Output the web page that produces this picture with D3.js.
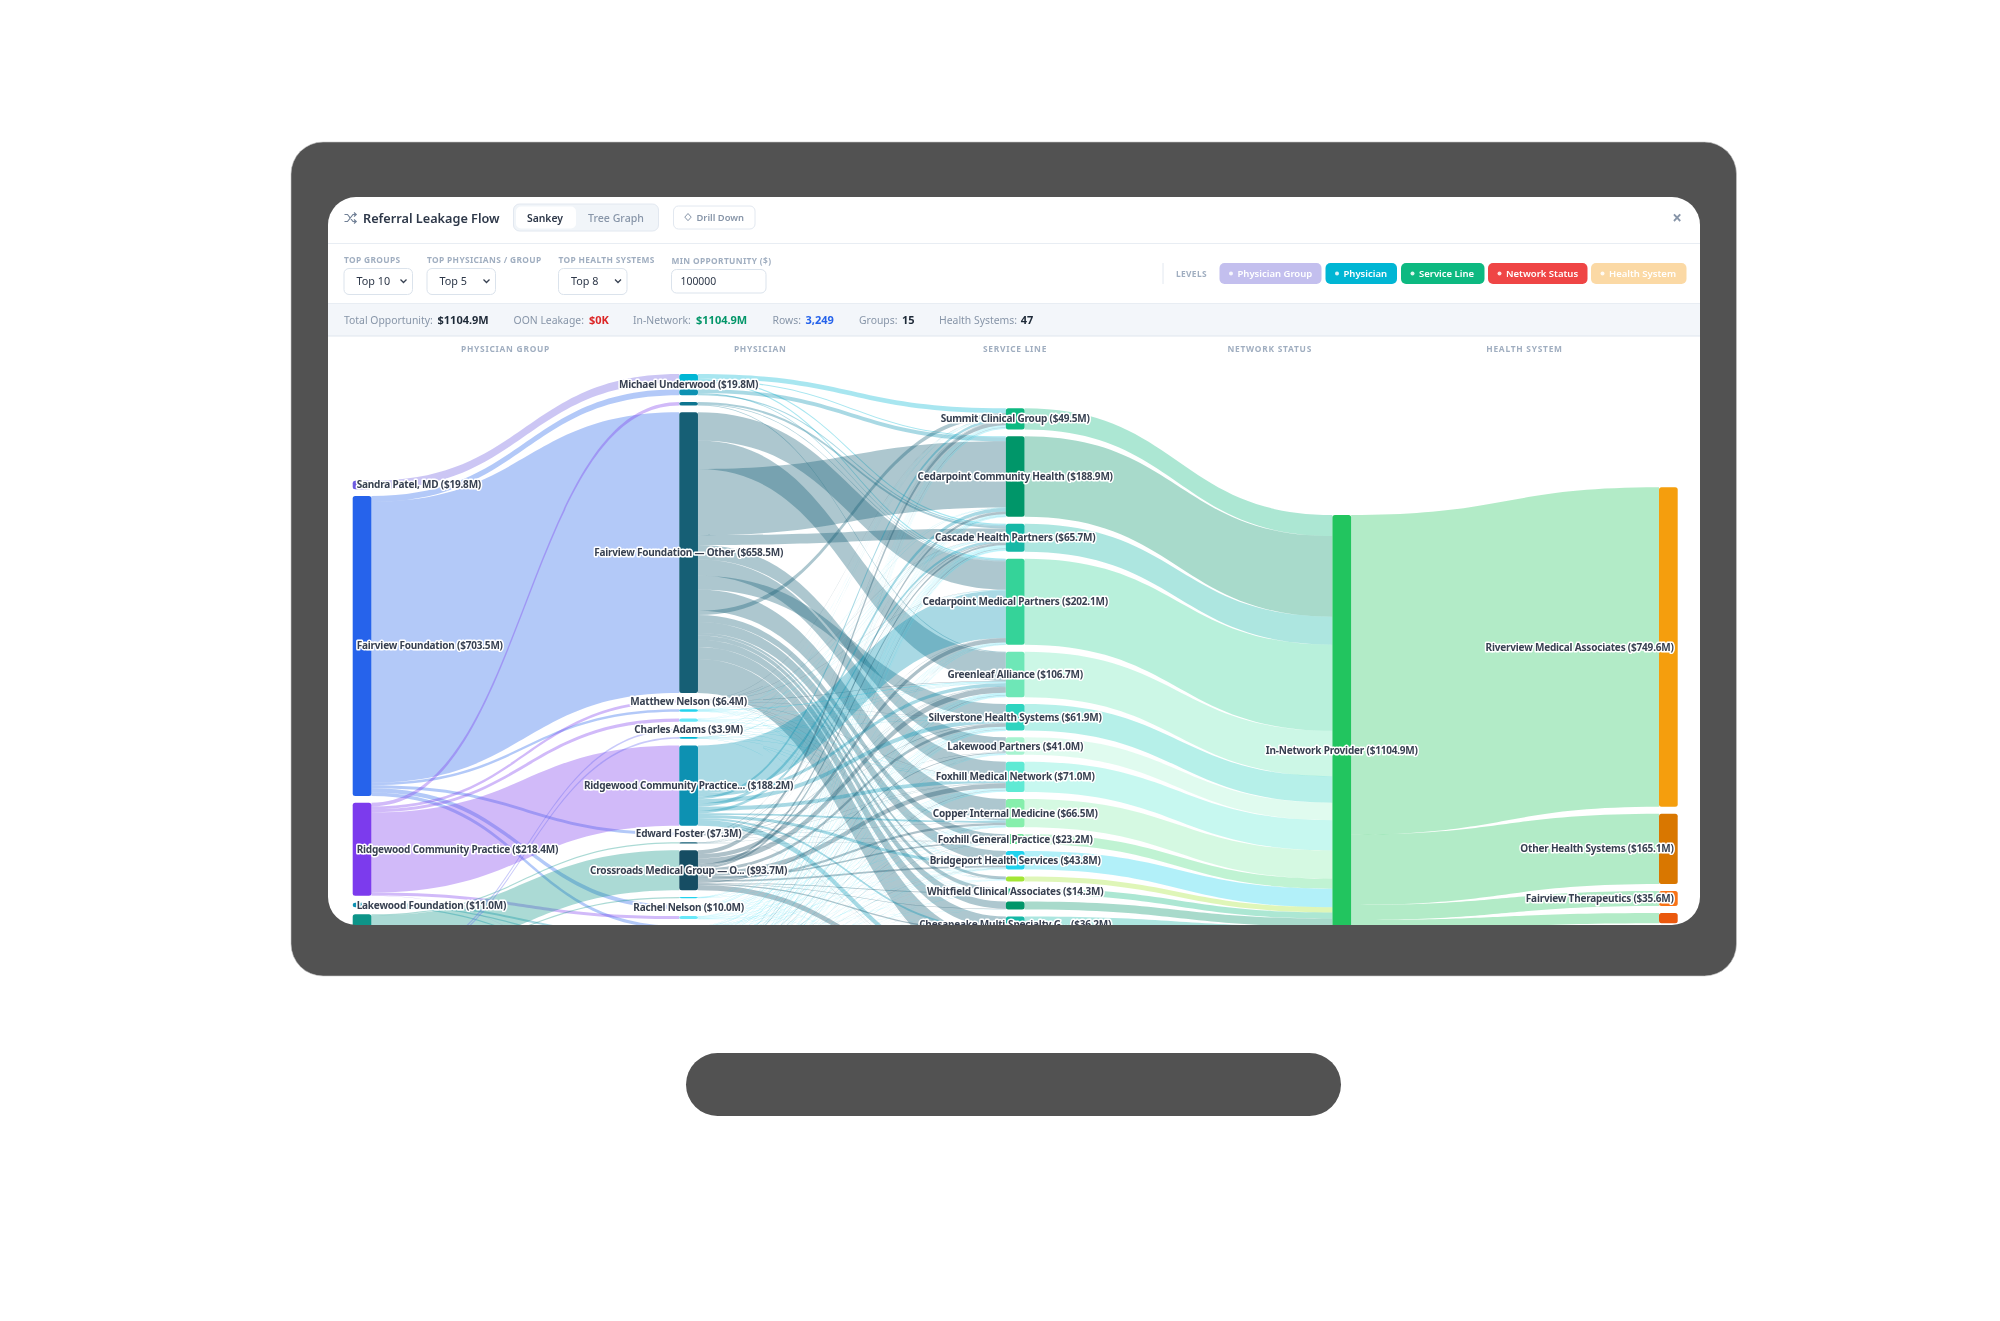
<!DOCTYPE html>
<html>
<head>
<meta charset="utf-8">
<title>Referral Leakage Flow</title>
<script src="https://cdn.jsdelivr.net/npm/d3@7"></script>
<style>
    html, body { margin: 0; padding: 0; background: #fff; }
    svg { display: block; font-family: "Noto Sans", sans-serif; }
    .node-label { font-size: 10px; font-weight: 700; letter-spacing: -0.2px; fill: #374151; stroke: #fff; stroke-width: 3px; stroke-linejoin: round; paint-order: stroke; }
    .col-head { font-size: 8.4px; font-weight: 700; fill: #a0aec0; letter-spacing: 0.75px; text-anchor: middle; }
    .filter-label { font-size: 8.4px; font-weight: 700; fill: #a0aec0; letter-spacing: 0.35px; }
</style>
</head>
<body>
<div id="chart"></div>
<script>
// values, in $M. Empty names are bars the picture shows without a label
var levels = ["PHYSICIAN GROUP", "PHYSICIAN", "SERVICE LINE", "NETWORK STATUS", "HEALTH SYSTEM"];
var totalOpportunity = 1104.9;

var groupNames = ["Sandra Patel, MD", "Fairview Foundation", "Ridgewood Community Practice", "Lakewood Foundation", "", ""];
var groupValues = [19.8, 703.5, 218.4, 11.0, 105.0, 47.2];
var groupColors = ["#6d5ce0", "#2563eb", "#7c3aed", "#0891b2", "#0d9488", "#6366f1"];

var physicianNames = ["Michael Underwood", "", "", "Fairview Foundation — Other", "Matthew Nelson", "", "", "Charles Adams", "", "Ridgewood Community Practice...", "Edward Foster", "", "Crossroads Medical Group — O...", "", "Rachel Nelson", "", "", "", "", "", "", "", ""];
var physicianValues = [19.8, 14.0, 8.7, 658.5, 6.4, 6.0, 7.5, 3.9, 4.0, 188.2, 7.3, 3.0, 93.7, 3.0, 10.0, 7.1, 7.7, 11.0, 5.3, 10.0, 9.0, 8.0, 12.8];
var physicianColors = ["#06b6d4", "#0891b2", "#0e7490", "#155e75", "#164e63", "#22d3ee", "#67e8f9", "#06b6d4", "#06b6d4", "#0891b2", "#164e63", "#155e75", "#164e63", "#22d3ee", "#67e8f9", "#67e8f9", "#22d3ee", "#67e8f9", "#22d3ee", "#0e7490", "#67e8f9", "#22d3ee", "#67e8f9"];

var serviceNames = ["Summit Clinical Group", "Cedarpoint Community Health", "Cascade Health Partners", "Cedarpoint Medical Partners", "Greenleaf Alliance", "Silverstone Health Systems", "Lakewood Partners", "Foxhill Medical Network", "Copper Internal Medicine", "Foxhill General Practice", "Bridgeport Health Services", "", "Whitfield Clinical Associates", "", "Chesapeake Multi-Specialty G...", ""];
var serviceValues = [49.5, 188.9, 65.7, 202.1, 106.7, 61.9, 41.0, 71.0, 66.5, 23.2, 43.8, 12.0, 14.3, 19.0, 36.2, 103.1];
var serviceColors = ["#10b981", "#059669", "#14b8a6", "#34d399", "#6ee7b7", "#2dd4bf", "#a7f3d0", "#5eead4", "#86efac", "#4ade80", "#22d3ee", "#a3e635", "#10b981", "#059669", "#14b8a6", "#2dd4bf"];

var networkNames = ["In-Network Provider"];
var networkValues = [1104.9];
var networkColors = ["#22c55e"];

var systemNames = ["Riverview Medical Associates", "Other Health Systems", "Fairview Therapeutics", "", ""];
var systemValues = [749.6, 165.1, 35.6, 24.0, 130.6];
var systemColors = ["#f59e0b", "#d97706", "#f97316", "#ea580c", "#fb923c"];

// group -> physician: [group, physician, $M]
var groupFlows = [
    [0, 0, 19.8],
    [1, 1, 14.0], [1, 3, 658.5], [1, 5, 6.0], [1, 10, 7.3], [1, 14, 10.0], [1, 16, 7.7],
    [2, 2, 8.7], [2, 4, 6.4], [2, 6, 7.5], [2, 9, 188.2], [2, 15, 7.1], [2, 21, 0.5],
    [3, 17, 5.0], [3, 18, 3.0], [3, 20, 3.0],
    [4, 11, 3.0], [4, 12, 93.7], [4, 13, 3.0], [4, 18, 2.3], [4, 22, 3.0],
    [5, 7, 3.9], [5, 8, 4.0], [5, 17, 6.0], [5, 19, 10.0], [5, 20, 6.0], [5, 21, 7.5], [5, 22, 9.8]
];

// big physicians: [service, $M] in the order they leave the bar
var physicianFlowsListed = {
    0: [[0, 11], [2, 3], [1, 2.8], [3, 3]],
    1: [[1, 9], [3, 2], [2, 3]],
    2: [[2, 5], [3, 1.7], [4, 2]],
    3: [[3, 66], [4, 67], [1, 155], [2, 23], [6, 34], [7, 38], [5, 32.5], [8, 50], [0, 10], [9, 16], [10, 26], [11, 6], [12, 10], [13, 17], [14, 28], [15, 80]],
    9: [[3, 112], [4, 8], [0, 6], [5, 10], [1, 8], [7, 9], [2, 6], [8, 4], [10, 7], [14, 5], [15, 13.2]],
    12: [[0, 9], [3, 10], [4, 13], [1, 6], [2, 5], [5, 7], [7, 11], [9, 4], [8, 5], [10, 4], [6, 2], [12, 1.5], [13, 1], [14, 3], [15, 12.2]]
};

// small physicians: one column per service line
var physicianFlowsThin = {
    4:  [.6, .4, .8, .5, .9, .6, .2, .7, .4, .2, .4, .2, .1, .1, 0, .3],
    5:  [.3, .2, .5, .3, 1.8, .5, .2, .6, .5, .2, .4, .2, .1, 0, 0, .2],
    6:  [.7, .5, 1.1, .4, 1.3, .8, .3, .8, .5, .2, .5, .2, .1, 0, 0, .1],
    7:  [.4, .2, .6, .2, .5, .4, .1, .5, .3, .1, .2, .1, .1, 0, 0, .2],
    8:  [.5, .2, .6, .2, .5, .4, .2, .4, .3, .1, .2, .1, .1, 0, 0, .1],
    10: [.9, .6, 1.4, .5, 1, .8, .3, .7, .4, .1, .2, .1, .1, 0, 0, .1],
    11: [.4, .2, .6, .2, .3, .3, .1, .3, .2, .1, .1, .1, 0, 0, 0, .1],
    13: [.3, .3, .5, .2, .3, .4, .1, .3, .2, .1, .1, .1, 0, 0, 0, .1],
    14: [1.1, .9, 1.7, .7, 1.3, 1.1, .4, 1, .6, .2, .4, .2, .1, .1, 0, .1],
    15: [.8, .6, 1.1, .6, .9, .9, .4, .7, .5, .2, .3, .2, .1, .1, 0, .2],
    16: [.9, .6, 1.3, .5, 1, .9, .4, .8, .5, .2, .4, .2, .1, .1, 0, .3],
    17: [1.2, 1, 1.9, .8, 1.5, 1.3, .5, 1.2, .8, .3, .6, .3, .2, .1, 0, .3],
    18: [.6, .5, .9, .4, .7, .7, .3, .6, .4, .1, .3, .1, .1, 0, 0, .1],
    19: [1.1, .8, 1.8, .7, 1.4, 1.2, .4, 1.1, .7, .3, .5, .3, .2, .1, 0, .3],
    20: [1, .8, 1.5, .6, 1.2, 1.1, .4, 1, .7, .2, .6, .3, .2, .1, 0, .2],
    21: [.9, .7, 1.3, .5, 1.1, 1, .4, .9, .6, .2, .5, .2, .2, .1, 0, .2],
    22: [.9, .7, 1.2, .6, 1.1, 1, .4, 1, .7, .3, .6, .3, .2, .1, 0, .3]
};

// interface text
var filters = [["TOP GROUPS", "Top 10"], ["TOP PHYSICIANS / GROUP", "Top 5"], ["TOP HEALTH SYSTEMS", "Top 8"]];
var minOpportunity = ["MIN OPPORTUNITY ($)", "100000"];
var stats = [
    ["Total Opportunity:", "$1104.9M", "#1f2937"],
    ["OON Leakage:", "$0K", "#dc2626"],
    ["In-Network:", "$1104.9M", "#059669"],
    ["Rows:", "3,249", "#2563eb"],
    ["Groups:", "15", "#1f2937"],
    ["Health Systems:", "47", "#1f2937"]
];
var legendNames = ["Physician Group", "Physician", "Service Line", "Network Status", "Health System"];
var legendColors = ["#c3bfee", "#06b6d4", "#10b981", "#ef4444", "#fbd9a5"];

// page geometry
var width = 2000, height = 1321;
var screen = {x: 328, y: 197, w: 1372, h: 728};
var nodeWidth = 18.7;
var columnPads = [6.85, 6.75, 6.9, 6.85, 6.85];
var columnTops = [480.7, 374, 408.3, 515, 487.3];
var labelShift = {"Michael Underwood": 6};

var svg = d3.select("#chart").append("svg").attr("width", width).attr("height", height);

svg.append("filter").attr("id", "soften").attr("x", 0).attr("y", 0).attr("width", 1).attr("height", 1)
    .append("feGaussianBlur").attr("stdDeviation", 0.4);

// monitor
svg.append("rect").attr("x", 291).attr("y", 142).attr("width", 1445.5).attr("height", 834).attr("rx", 32).attr("fill", "#525252").attr("stroke", "#c8c8c8").attr("stroke-width", 0.6);
svg.append("rect").attr("x", 686).attr("y", 1053).attr("width", 655).attr("height", 63).attr("rx", 31.5).attr("fill", "#525252");

svg.append("clipPath").attr("id", "screen-clip").append("rect")
    .attr("x", screen.x).attr("y", screen.y).attr("width", screen.w).attr("height", screen.h).attr("rx", 28);

var page = svg.append("g").attr("clip-path", "url(#screen-clip)").append("g").attr("filter", "url(#soften)");
page.append("rect").attr("x", screen.x).attr("y", screen.y).attr("width", screen.w).attr("height", screen.h).attr("fill", "#fff");

drawHeader(page);
drawSankey(page);

function drawHeader(g) {
    // title row
    g.append("path")
        .attr("d", "M344.5 214.5h3l5.5 7h3M344.5 221.5h3l5.5-7h3M354 212.5l2.2 2-2.2 2M354 219.5l2.2 2-2.2 2")
        .attr("fill", "none").attr("stroke", "#718096").attr("stroke-width", 1.2);
    g.append("text").attr("x", 363).attr("y", 222.5).attr("font-size", 12.7).attr("font-weight", 600).attr("fill", "#2d3748").text("Referral Leakage Flow");

    g.append("rect").attr("x", 513.5).attr("y", 204).attr("width", 145).attr("height", 27).attr("rx", 6).attr("fill", "#f1f5f9").attr("stroke", "#e2e8f0");
    g.append("rect").attr("x", 516).attr("y", 206.5).attr("width", 60).attr("height", 22).attr("rx", 5).attr("fill", "#fff");
    g.append("text").attr("x", 545).attr("y", 221.5).attr("text-anchor", "middle").attr("font-size", 10.4).attr("font-weight", 600).attr("fill", "#2d3748").text("Sankey");
    g.append("text").attr("x", 616).attr("y", 221.5).attr("text-anchor", "middle").attr("font-size", 10.6).attr("font-weight", 500).attr("fill", "#8795a8").text("Tree Graph");

    g.append("rect").attr("x", 673.5).attr("y", 206).attr("width", 81.5).attr("height", 23).attr("rx", 5).attr("fill", "#fff").attr("stroke", "#e2e8f0");
    g.append("path").attr("d", "M688 213.5l3.2 3.6-3.2 3.6-3.2-3.6z").attr("fill", "none").attr("stroke", "#8795a8").attr("stroke-width", 1);
    g.append("text").attr("x", 696.5).attr("y", 221.3).attr("font-size", 9.4).attr("font-weight", 600).attr("fill", "#8795a8").text("Drill Down");

    g.append("text").attr("x", 1677).attr("y", 223.5).attr("text-anchor", "middle").attr("font-size", 17).attr("font-weight", 700).attr("fill", "#8795a8").text("×");

    g.append("line").attr("x1", screen.x).attr("x2", screen.x + screen.w).attr("y1", 243.5).attr("y2", 243.5).attr("stroke", "#e8edf3");

    // filter row
    var filterX = d3.scaleOrdinal().domain(d3.range(4)).range([344, 427, 558.5, 671.5]);
    filters.forEach(function(f, i) {
        var x = filterX(i);
        g.append("text").attr("class", "filter-label").attr("x", x).attr("y", 263).text(f[0]);
        g.append("rect").attr("x", x).attr("y", 268.5).attr("width", 68.5).attr("height", 26).attr("rx", 5).attr("fill", "#fff").attr("stroke", "#dbe3ec");
        g.append("text").attr("x", x + 12.5).attr("y", 285.3).attr("font-size", 10.8).attr("fill", "#2d3748").text(f[1]);
        g.append("path").attr("d", "M" + (x + 56.5) + " 279.5l3 3 3-3").attr("fill", "none").attr("stroke", "#374151").attr("stroke-width", 1.3);
    });
    g.append("text").attr("class", "filter-label").attr("x", filterX(3)).attr("y", 264).text(minOpportunity[0]);
    g.append("rect").attr("x", filterX(3)).attr("y", 269.5).attr("width", 94.5).attr("height", 23.5).attr("rx", 5).attr("fill", "#fff").attr("stroke", "#dbe3ec");
    g.append("text").attr("x", filterX(3) + 9).attr("y", 285).attr("font-size", 10.4).attr("fill", "#2d3748").text(minOpportunity[1]);

    // levels legend
    g.append("line").attr("x1", 1163).attr("x2", 1163).attr("y1", 263).attr("y2", 284).attr("stroke", "#e2e8f0");
    g.append("text").attr("class", "filter-label").attr("x", 1176).attr("y", 277).text("LEVELS");
    var pillX = [1219.5, 1325.5, 1401, 1488, 1591];
    var pillW = [102, 71.5, 83.5, 99.5, 95.5];
    legendNames.forEach(function(name, i) {
        g.append("rect").attr("x", pillX[i]).attr("y", 263).attr("width", pillW[i]).attr("height", 21).attr("rx", 5).attr("fill", legendColors[i]);
        g.append("circle").attr("cx", pillX[i] + 11.5).attr("cy", 273.5).attr("r", 2).attr("fill", "#fff").attr("fill-opacity", 0.85);
        g.append("text").attr("x", pillX[i] + 18).attr("y", 276.8).attr("font-size", 9.5).attr("font-weight", 600).attr("fill", "#fff").text(name);
    });

    // stats bar
    g.append("rect").attr("x", screen.x).attr("y", 303).attr("width", screen.w).attr("height", 33).attr("fill", "#f3f6fa");
    g.append("line").attr("x1", screen.x).attr("x2", screen.x + screen.w).attr("y1", 303.5).attr("y2", 303.5).attr("stroke", "#e8edf3");
    g.append("line").attr("x1", screen.x).attr("x2", screen.x + screen.w).attr("y1", 336).attr("y2", 336).attr("stroke", "#dfe6ee");
    var labelX = [344, 513.6, 633, 772.5, 859, 939];
    var valueX = [437.5, 589, 696, 805.5, 902, 1020.7];
    stats.forEach(function(s, i) {
        g.append("text").attr("x", labelX[i]).attr("y", 323.5).attr("font-size", 10.4).attr("fill", "#8795a8").text(s[0]);
        g.append("text").attr("x", valueX[i]).attr("y", 323.5).attr("font-size", 11).attr("font-weight", 700).attr("fill", s[2]).text(s[1]);
    });

    // column heads
    var headX = d3.scalePoint().domain(levels).range([505.5, 1524.5]);
    g.selectAll(".col-head").data(levels).enter().append("text")
        .attr("class", "col-head").attr("x", function(d) { return headX(d); }).attr("y", 352).text(function(d) { return d; });
}

function makeColumn(names, values, colors, col) {
    return values.map(function(v, i) {
        return {name: names[i], value: v, color: colors[i], col: col, out: [], in: []};
    });
}

// filled ribbon, same vertical thickness all the way along
function ribbon(d) {
    var x0 = d.source.x1, x1 = d.target.x0, xm = (x0 + x1) / 2, t = d.w / 2;
    var p = d3.path();
    p.moveTo(x0, d.y0 - t);
    p.bezierCurveTo(xm, d.y0 - t, xm, d.y1 - t, x1, d.y1 - t);
    p.lineTo(x1, d.y1 + t);
    p.bezierCurveTo(xm, d.y1 + t, xm, d.y0 + t, x0, d.y0 + t);
    p.closePath();
    return p.toString();
}

function drawSankey(g) {
    var columns = [
        makeColumn(groupNames, groupValues, groupColors, 0),
        makeColumn(physicianNames, physicianValues, physicianColors, 1),
        makeColumn(serviceNames, serviceValues, serviceColors, 2),
        makeColumn(networkNames, networkValues, networkColors, 3),
        makeColumn(systemNames, systemValues, systemColors, 4)
    ];

    var x = d3.scalePoint().domain(levels).range([352.7, 1659]);
    var h = d3.scaleLinear().domain([0, totalOpportunity]).range([0, 471]);

    // stack the bars of each column
    columns.forEach(function(column, c) {
        var y = columnTops[c];
        column.forEach(function(n) {
            n.x0 = x(levels[c]);
            n.x1 = n.x0 + nodeWidth;
            n.y0 = y;
            n.y1 = y + h(n.value);
            y = n.y1 + columnPads[c];
        });
    });

    var links = [];
    function addLink(a, b, v) {
        if (!v) return;
        var l = {source: a, target: b, value: v};
        a.out.push(l);
        b.in.push(l);
        links.push(l);
    }

    groupFlows.forEach(function(f) {
        addLink(columns[0][f[0]], columns[1][f[1]], f[2]);
    });
    columns[1].forEach(function(p, i) {
        if (physicianFlowsListed[i]) {
            physicianFlowsListed[i].forEach(function(f) { addLink(p, columns[2][f[0]], f[1]); });
        } else {
            physicianFlowsThin[i].forEach(function(v, s) { addLink(p, columns[2][s], v); });
        }
    });
    columns[2].forEach(function(s) { addLink(s, columns[3][0], s.value); });
    columns[4].forEach(function(s) { addLink(columns[3][0], s, s.value); });

    // links leave a bar in listed order and arrive sorted by where they came from
    columns.forEach(function(column) {
        column.forEach(function(n) {
            var y = n.y0;
            n.out.forEach(function(l) {
                l.w = h(l.value);
                l.y0 = y + l.w / 2;
                y += l.w;
            });
        });
    });
    columns.forEach(function(column) {
        column.forEach(function(n) {
            var y = n.y0;
            n.in.sort(function(a, b) { return a.source.y0 - b.source.y0 || a.y0 - b.y0; });
            n.in.forEach(function(l) {
                l.y1 = y + l.w / 2;
                y += l.w;
            });
        });
    });

    g.append("g").selectAll("path").data(links).enter().append("path")
        .attr("d", ribbon)
        .attr("fill", function(d) { return d.source.color; })
        .attr("fill-opacity", 0.35);

    var nodes = d3.merge(columns);

    g.append("g").selectAll("rect").data(nodes).enter().append("rect")
        .attr("x", function(d) { return d.x0; })
        .attr("y", function(d) { return d.y0; })
        .attr("width", nodeWidth)
        .attr("height", function(d) { return d.y1 - d.y0; })
        .attr("rx", 2.5)
        .attr("fill", function(d) { return d.color; });

    g.append("g").selectAll("text").data(nodes.filter(function(d) { return d.name; })).enter().append("text")
        .attr("class", "node-label")
        .attr("x", function(d) {
            if (d.col === 0) return d.x0 + 4;
            if (d.col === 4) return d.x1 - 4;
            return (d.x0 + d.x1) / 2;
        })
        .attr("y", function(d) { return (d.y0 + d.y1) / 2 + (labelShift[d.name] || 0); })
        .attr("dy", "0.35em")
        .attr("text-anchor", function(d) { return d.col === 0 ? "start" : d.col === 4 ? "end" : "middle"; })
        .text(function(d) { return d.name + " ($" + d.value.toFixed(1) + "M)"; });
}
</script>
</body>
</html>
